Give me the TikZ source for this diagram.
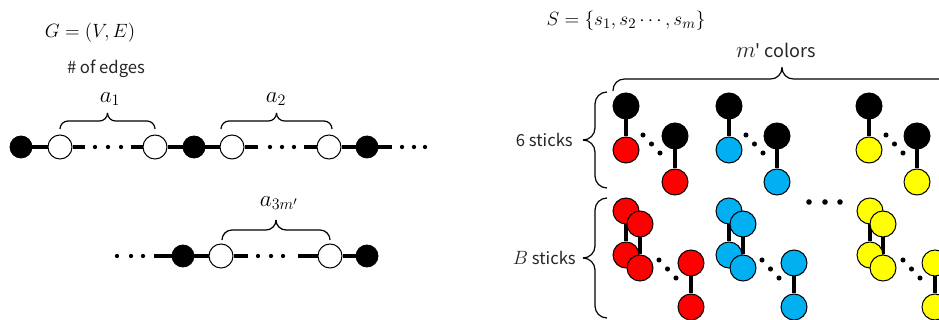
\documentclass[tikz,border=0pt]{standalone}
\usepackage{fontspec}
\newfontfamily\jsans{Noto Sans CJK JP}
\usetikzlibrary{backgrounds}
\definecolor{cred}{HTML}{FF0000}
\definecolor{cblue}{HTML}{00B0F0}
\definecolor{cyel}{HTML}{FFFF00}
\begin{document}
\begin{tikzpicture}[x=0.75pt,y=-0.75pt,
  blk/.style={circle,draw=black,fill=black,line width=0.6pt,minimum size=16.5pt,inner sep=0pt},
  wht/.style={circle,draw=black,fill=white,line width=0.75pt,minimum size=18pt,inner sep=0pt},
  chainedge/.style={line width=2.3pt},
  dt/.style={circle,fill=black,minimum size=3.2pt,inner sep=0pt},
  bdt/.style={circle,fill=black,minimum size=3.8pt,inner sep=0pt},
  bead/.style={circle,draw=black,line width=0.75pt,minimum size=19.5pt,inner sep=0pt},
  stick/.style={line width=2.4pt},
  brc/.style={line width=0.9pt,rounded corners=#1},
  lbl/.style={font=\jsans\fontsize{12.5}{14}\selectfont,text=black!85,inner sep=0pt},
  mth/.style={font=\fontsize{15}{17}\selectfont,inner sep=0pt},
  amth/.style={font=\fontsize{18}{20}\selectfont,inner sep=0pt}
]
\clip (0,0) rectangle (939,320);
\begin{pgfonlayer}{background}
\fill[white] (0,0) rectangle (939,320);
\end{pgfonlayer}

% ---------- left: G ----------
\node[mth] (G) at (90,33) {$G=(V,E)$};
\node[lbl] (edges) at (106,69) {\# of edges};

% chain 1
\node[blk] (b1) at (21,147) {};
\node[wht] (w1) at (60,147) {};
\coordinate (d1a) at (85,147);
\node[dt] (p11) at (95,147) {};
\node[dt] (p12) at (108,147) {};
\node[dt] (p13) at (121,147) {};
\coordinate (d1b) at (131,147);
\node[wht] (w2) at (155,147) {};
\node[blk] (b2) at (194,147) {};
\node[wht] (w3) at (232,147) {};
\coordinate (d2a) at (258,147);
\node[dt] (p21) at (270,147) {};
\node[dt] (p22) at (282,147) {};
\node[dt] (p23) at (294,147) {};
\coordinate (d2b) at (304,147);
\node[wht] (w4) at (329,147) {};
\node[blk] (b3) at (367,147) {};
\coordinate (d3a) at (392,147);
\node[dt] (p31) at (402,147) {};
\node[dt] (p32) at (414,147) {};
\node[dt] (p33) at (425,147) {};
\draw[chainedge] (b1) -- (w1);
\draw[chainedge] (w1) -- (d1a);
\draw[chainedge] (d1b) -- (w2);
\draw[chainedge] (w2) -- (b2);
\draw[chainedge] (b2) -- (w3);
\draw[chainedge] (w3) -- (d2a);
\draw[chainedge] (d2b) -- (w4);
\draw[chainedge] (w4) -- (b3);
\draw[chainedge] (b3) -- (d3a);

\draw[brc=6pt] (60,129) -- (60,121) -- (107.5,121) -- (107.5,113);
\draw[brc=6pt] (107.5,113) -- (107.5,121) -- (155,121) -- (155,129);
\node[amth] (a1) at (110,99) {$a_1$};
\draw[brc=6pt] (221,129) -- (221,121) -- (276.5,121) -- (276.5,113);
\draw[brc=6pt] (276.5,113) -- (276.5,121) -- (332,121) -- (332,129);
\node[amth] (a2) at (276,99) {$a_2$};

% chain 2
\node[dt] (q1) at (117,256) {};
\node[dt] (q2) at (131,256) {};
\node[dt] (q3) at (143,256) {};
\coordinate (e1) at (154,256);
\node[blk] (b4) at (183,256) {};
\node[wht] (w5) at (221,256) {};
\coordinate (e2) at (248,256);
\node[dt] (q4) at (258,256) {};
\node[dt] (q5) at (271,256) {};
\node[dt] (q6) at (283,256) {};
\coordinate (e3) at (298,256);
\node[wht] (w6) at (330,256) {};
\node[blk] (b5) at (367,256) {};
\draw[chainedge] (e1) -- (b4);
\draw[chainedge] (b4) -- (w5);
\draw[chainedge] (w5) -- (e2);
\draw[chainedge] (e3) -- (w6);
\draw[chainedge] (w6) -- (b5);
\draw[brc=7.5pt] (222,240) -- (222,230) -- (276,230) -- (276,220);
\draw[brc=7.5pt] (276,220) -- (276,230) -- (330,230) -- (330,240);
\node[amth] (a3) at (279,203) {$a_{3m'}$};

% ---------- right: S ----------
\node[mth] (S) at (626,21) {$S=\{s_1,s_2\cdots,s_m\}$};
\node[lbl,font=\jsans\fontsize{13.5}{15}\selectfont] (mc) at (776,50) {{\fontsize{16}{18}\selectfont$m$}' colors};
\draw[brc=8.5pt] (613,91) -- (613,79) -- (782,79) -- (782,67.5);
\draw[brc=8.5pt] (782,67.5) -- (782,79) -- (951,79) -- (951,91);

\draw[brc=9pt] (607,92) -- (595,92) -- (595,140) -- (583,140);
\draw[brc=9pt] (583,140) -- (595,140) -- (595,188) -- (607,188);
\node[lbl,anchor=east] (six) at (573,140) {6 sticks};

\draw[brc=9pt] (607,198) -- (595,198) -- (595,258) -- (583,258);
\draw[brc=9pt] (583,258) -- (595,258) -- (595,318) -- (607,318);
\node[lbl,anchor=east] (Bs) at (576,258) {{\fontsize{14}{16}\selectfont$B$} sticks};

% top group: 6 sticks
\foreach \c/\xa/\xb/\n in {cred/626/675/r, cblue/729/777/u, cyel/869/917/y}{
  \node[bead,fill=black] (\n k1) at (\xa,106) {};
  \node[bead,fill=\c] (\n c1) at (\xa,150) {};
  \node[bead,fill=black] (\n k2) at (\xb,136) {};
  \node[bead,fill=\c] (\n c2) at (\xb,182) {};
  \draw[stick] (\n k1) -- (\n c1);
  \draw[stick] (\n k2) -- (\n c2);
  \node[bdt] (\n t1) at (\xa+17,135) {};
  \node[bdt] (\n t2) at (\xa+25.5,144) {};
  \node[bdt] (\n t3) at (\xa+34,153) {};
}

% bottom group: B sticks
\foreach \c/\xa/\xb/\xs/\n in {cred/626/640/691/r, cblue/729/743/794/u, cyel/870/883/935/y}{
  \node[bead,fill=\c] (\n m1) at (\xa,211) {};
  \node[bead,fill=\c] (\n m3) at (\xa,255) {};
  \node[bead,fill=\c] (\n m2) at (\xb,224) {};
  \node[bead,fill=\c] (\n m4) at (\xb,268) {};
  \node[bead,fill=\c] (\n s1) at (\xs,263) {};
  \node[bead,fill=\c] (\n s2) at (\xs,307) {};
  \begin{pgfonlayer}{background}
    \draw[stick] (\n m1) -- (\n m3);
    \draw[stick] (\n m2) -- (\n m4);
  \end{pgfonlayer}
  \draw[stick] (\n s1) -- (\n s2);
  \node[bdt] (\n v1) at (\xa+33,260) {};
  \node[bdt] (\n v2) at (\xa+41.5,269) {};
  \node[bdt] (\n v3) at (\xa+50,278) {};
}
\node[bdt,minimum size=4.2pt] (h1) at (809,202) {};
\node[bdt,minimum size=4.2pt] (h2) at (825,202) {};
\node[bdt,minimum size=4.2pt] (h3) at (840,202) {};
\end{tikzpicture}
\end{document}
